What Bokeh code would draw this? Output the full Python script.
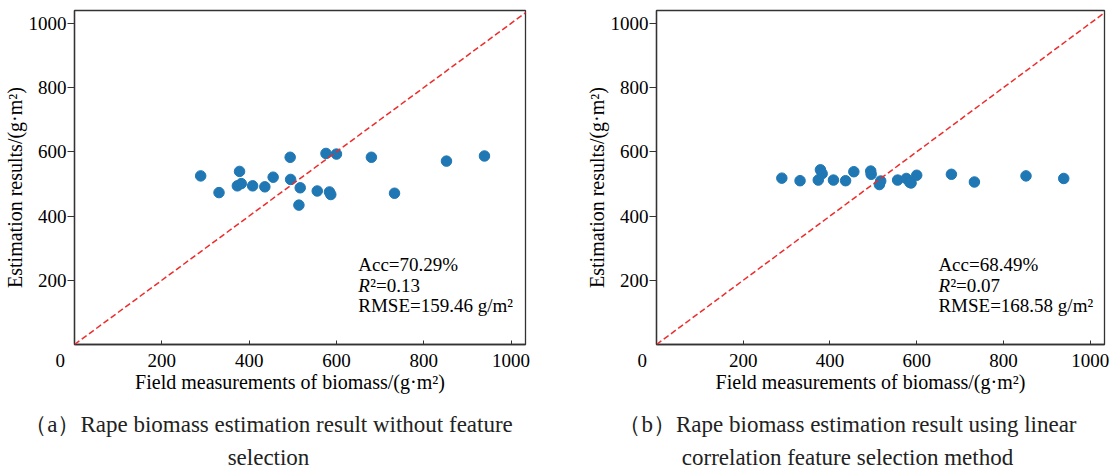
from bokeh.plotting import figure
from bokeh.models import Range1d, FixedTicker, Label, Slope
from bokeh.layouts import row, column
from bokeh.embed import file_html
from bokeh.resources import INLINE

# Field-measured biomass of the sample plots (g/m2)
field_measured = [289, 331, 373, 378, 382, 408, 436, 455, 494, 495, 514,
                  517, 556, 576, 584, 587, 600, 680, 733, 852, 939]

# Estimated biomass, model using all features
est_all_features = [525, 473, 494, 539, 501, 494, 491, 521, 583, 514, 434,
                    488, 478, 595, 475, 467, 593, 583, 471, 571, 587]

# Estimated biomass, model using linear-correlation feature selection
est_linear_corr = [518, 510, 512, 544, 532, 512, 510, 538, 540, 530, 498,
                   509, 512, 517, 505, 503, 527, 530, 506, 525, 517]

axis_ticks = [0, 200, 400, 600, 800, 1000]

metrics_a = ["Acc=70.29%", "0.13", "RMSE=159.46 g/m²"]
metrics_b = ["Acc=68.49%", "0.07", "RMSE=168.58 g/m²"]

caption_a = ["（a）Rape biomass estimation result without feature", "selection"]
caption_b = ["（b）Rape biomass estimation result using linear",
             "correlation feature selection method"]

FONT = "Liberation Serif"
NBSP = "\u00a0"
TOP_H = 396
CAP_H = 471 - TOP_H


def make_panel(est, metrics, border_left, border_right):
    p = figure(width=555, height=TOP_H,
               min_border_left=border_left, min_border_right=border_right,
               min_border_top=10, min_border_bottom=TOP_H - 344,
               x_range=Range1d(0, 1033), y_range=Range1d(0, 1040),
               output_backend="svg", toolbar_location=None)
    p.grid.visible = False
    p.background_fill_color = "white"
    p.border_fill_color = "white"
    p.outline_line_color = "#333333"
    p.outline_line_width = 1.3
    p.outline_line_alpha = 1.0

    for ax in (p.xaxis[0], p.yaxis[0]):
        ax.minor_tick_line_color = None
        ax.axis_line_color = "#333333"
        ax.axis_line_width = 1.3
        ax.major_tick_line_color = "#333333"
        ax.major_tick_line_width = 1.0
        ax.major_label_text_font = FONT
        ax.major_label_text_font_size = "19px"
        ax.major_label_text_color = "black"
        ax.axis_label_text_font = FONT
        ax.axis_label_text_font_size = "20px"
        ax.axis_label_text_font_style = "normal"
        ax.axis_label_text_color = "black"

    # the x axis carries the single shared "0" at the origin corner
    xa = p.xaxis[0]
    xa.ticker = FixedTicker(ticks=axis_ticks)
    xa.major_label_overrides = {0: "0" + NBSP * 6}
    xa.axis_label = "Field measurements of biomass/(g·m²)" + NBSP * 4
    xa.major_tick_in = 4
    xa.major_tick_out = 0
    xa.major_label_standoff = 5
    xa.axis_label_standoff = -3

    ya = p.yaxis[0]
    ya.ticker = FixedTicker(ticks=axis_ticks[1:])
    ya.axis_label = "Estimation results/(g·m²)" + NBSP * 4
    ya.major_tick_in = 0
    ya.major_tick_out = 7
    ya.major_label_standoff = 1
    ya.axis_label_standoff = 0

    # 1:1 reference line
    p.add_layout(Slope(gradient=1, y_intercept=0, line_color="#ee2c2c",
                       line_width=1.5, line_dash="6 3"))

    p.scatter(field_measured, est, size=10.5, color="#1f77b4",
              line_color="#1f77b4")

    # accuracy statistics
    mx = 650
    common = dict(text_font=FONT, text_font_size="19px",
                  text_baseline="middle", text_color="black")
    p.add_layout(Label(x=mx, y=250, text=metrics[0], **common))
    p.add_layout(Label(x=mx, y=185, text="R", text_font_style="italic",
                       **common))
    p.add_layout(Label(x=mx, y=185, x_offset=12, text="²=" + metrics[1],
                       **common))
    p.add_layout(Label(x=mx, y=122, text=metrics[2], **common))
    return p


p1 = make_panel(est_all_features, metrics_a, 74, 30)
p2 = make_panel(est_linear_corr, metrics_b, 101, 6)

# caption strip under both panels
cap = figure(width=1110, height=CAP_H, x_range=Range1d(0, 1110),
             y_range=Range1d(0, CAP_H), min_border=0,
             output_backend="svg", toolbar_location=None)
cap.axis.visible = False
cap.grid.visible = False
cap.outline_line_color = None
cap.background_fill_color = "white"
cap.border_fill_color = "white"

for cx, lines in ((268, caption_a), (847, caption_b)):
    for i, line in enumerate(lines):
        cap.add_layout(Label(x=cx, y=CAP_H - 28 - 33 * i, text=line,
                             text_font=FONT, text_font_size="23px",
                             text_align="center", text_baseline="middle",
                             text_color="#222222"))

layout = column(row(p1, p2), cap)
open("out.html", "w").write(file_html(layout, INLINE))
